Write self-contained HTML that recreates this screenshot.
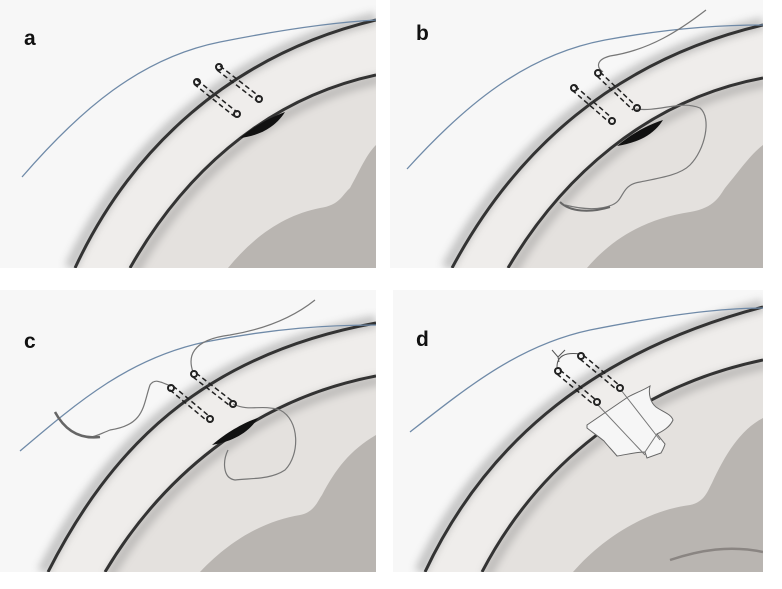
<!DOCTYPE html>
<html><head><meta charset="utf-8"><style>
html,body{margin:0;padding:0;background:#fff;}
svg{display:block}
text{font-family:"Liberation Sans",sans-serif;font-weight:bold;font-size:21px;fill:#111}
</style></head><body>
<svg width="782" height="589" viewBox="0 0 782 589" xmlns="http://www.w3.org/2000/svg">
<defs>
<filter id="bl" x="-20%" y="-20%" width="140%" height="140%"><feGaussianBlur stdDeviation="4"/></filter>
<clipPath id="ca"><rect x="0" y="0" width="376" height="268"/></clipPath>
<clipPath id="cb"><rect x="390" y="0" width="373" height="268"/></clipPath>
<clipPath id="cc"><rect x="0" y="290" width="376" height="282"/></clipPath>
<clipPath id="cd"><rect x="393" y="290" width="370" height="282"/></clipPath>
</defs>
<rect width="782" height="589" fill="#fff"/>
<rect x="0" y="0" width="376" height="268" fill="#f7f7f7"/>
<rect x="390" y="0" width="373" height="268" fill="#f7f7f7"/>
<rect x="0" y="290" width="376" height="282" fill="#f7f7f7"/>
<rect x="393" y="290" width="370" height="282" fill="#f7f7f7"/>

<!-- Panel a -->
<g clip-path="url(#ca)">
<path d="M75,268 C130,150 230,55 376,20 L376,268 Z" fill="#efedeb"/>
<path d="M70,268 C125,150 225,55 376,18" fill="none" stroke="#888" stroke-width="12" opacity=".45" filter="url(#bl)"/>
<path d="M130,268 C180,180 260,100 376,75 L376,268 Z" fill="#e4e1de"/>
<path d="M130,268 C180,180 260,100 376,75" fill="none" stroke="#777" stroke-width="10" opacity=".35" filter="url(#bl)" transform="translate(4,4)"/>
<path d="M228,268 C255,235 285,215 320,208 C340,205 342,195 350,188 C360,170 366,155 376,145 L376,268 Z" fill="#b9b5b1"/>
<path d="M75,268 C130,150 230,55 376,20" fill="none" stroke="#333" stroke-width="3"/>
<path d="M130,268 C180,180 260,100 376,75" fill="none" stroke="#333" stroke-width="3"/>
<path d="M240,138 C255,125 272,117 285,112 C275,128 258,136 240,138 Z" fill="#111"/>
<path d="M22,177 C80,110 140,58 220,42 C290,28 340,22 376,20" fill="none" stroke="#6f8aa8" stroke-width="1.3"/>
<g stroke="#222" stroke-width="1.5" fill="none">
<path d="M220,66 L260,97 M217,70 L257,101" stroke-dasharray="5,3"/>
<path d="M197,80 L237,112 M194,84 L234,116" stroke-dasharray="5,3"/>
<circle cx="219" cy="67" r="3" stroke-width="2"/><circle cx="259" cy="99" r="3" stroke-width="2"/>
<circle cx="197" cy="82" r="3" stroke-width="2"/><circle cx="237" cy="114" r="3" stroke-width="2"/>
</g>
</g>
<text x="24" y="45">a</text>

<!-- Panel b -->
<g clip-path="url(#cb)">
<path d="M452,268 C515,150 615,60 763,25 L763,268 Z" fill="#efedeb"/>
<path d="M447,268 C510,150 610,60 763,23" fill="none" stroke="#888" stroke-width="12" opacity=".45" filter="url(#bl)"/>
<path d="M508,268 C560,180 645,100 763,78 L763,268 Z" fill="#e4e1de"/>
<path d="M508,268 C560,180 645,100 763,78" fill="none" stroke="#777" stroke-width="10" opacity=".35" filter="url(#bl)" transform="translate(4,4)"/>
<path d="M587,268 C615,235 650,218 690,212 C715,208 720,195 725,188 C740,170 750,155 763,145 L763,268 Z" fill="#b9b5b1"/>
<path d="M452,268 C515,150 615,60 763,25" fill="none" stroke="#333" stroke-width="3"/>
<path d="M508,268 C560,180 645,100 763,78" fill="none" stroke="#333" stroke-width="3"/>
<path d="M617,146 C632,133 650,124 663,120 C653,136 636,143 617,146 Z" fill="#111"/>
<path d="M407,169 C465,105 525,55 605,40 C670,28 720,25 763,25" fill="none" stroke="#6f8aa8" stroke-width="1.3"/>
<path d="M706,10 C680,30 650,50 610,56 C595,60 597,68 603,72 M636,109 C660,112 680,100 700,108 C712,118 705,150 690,165 C680,175 660,178 640,182 C620,185 625,200 612,205 C600,210 585,210 565,205" fill="none" stroke="#777" stroke-width="1.2"/>
<path d="M560,202 C570,212 590,213 610,207" fill="none" stroke="#666" stroke-width="2"/>
<g stroke="#222" stroke-width="1.5" fill="none">
<path d="M600,72 L636,106 M597,76 L633,110" stroke-dasharray="5,3"/>
<path d="M575,86 L612,118 M572,90 L609,122" stroke-dasharray="5,3"/>
<circle cx="598" cy="73" r="3" stroke-width="2"/><circle cx="637" cy="108" r="3" stroke-width="2"/>
<circle cx="574" cy="88" r="3" stroke-width="2"/><circle cx="612" cy="121" r="3" stroke-width="2"/>
</g>
</g>
<text x="416" y="40">b</text>

<!-- Panel c -->
<g clip-path="url(#cc)">
<path d="M48,572 C110,450 200,355 376,323 L376,572 Z" fill="#efedeb"/>
<path d="M43,572 C105,450 195,355 376,321" fill="none" stroke="#888" stroke-width="12" opacity=".45" filter="url(#bl)"/>
<path d="M105,572 C160,480 250,400 376,376 L376,572 Z" fill="#e4e1de"/>
<path d="M105,572 C160,480 250,400 376,376" fill="none" stroke="#777" stroke-width="10" opacity=".35" filter="url(#bl)" transform="translate(4,4)"/>
<path d="M200,572 C235,535 270,520 300,515 C315,512 318,500 322,495 C335,470 350,450 376,435 L376,572 Z" fill="#b9b5b1"/>
<path d="M48,572 C110,450 200,355 376,323" fill="none" stroke="#333" stroke-width="3"/>
<path d="M105,572 C160,480 250,400 376,376" fill="none" stroke="#333" stroke-width="3"/>
<path d="M212,445 C227,432 245,422 258,418 C248,434 230,442 212,445 Z" fill="#111"/>
<path d="M20,451 C80,400 130,358 205,342 C275,328 330,325 376,325" fill="none" stroke="#6f8aa8" stroke-width="1.3"/>
<path d="M315,300 C290,320 260,330 230,335 C190,340 188,358 193,372 M171,386 C160,382 155,378 150,385 C143,405 145,425 110,430 C100,434 95,437 90,437 M233,404 C250,412 260,404 280,410 C300,420 300,455 285,470 C270,480 250,478 235,480 C222,478 223,460 228,450" fill="none" stroke="#777" stroke-width="1.2"/>
<path d="M55,412 C62,425 75,440 100,437" fill="none" stroke="#666" stroke-width="2.5"/>
<g stroke="#222" stroke-width="1.5" fill="none">
<path d="M196,373 L232,401 M193,377 L229,405" stroke-dasharray="5,3"/>
<path d="M173,386 L209,416 M170,390 L206,420" stroke-dasharray="5,3"/>
<circle cx="194" cy="374" r="3" stroke-width="2"/><circle cx="233" cy="404" r="3" stroke-width="2"/>
<circle cx="171" cy="388" r="3" stroke-width="2"/><circle cx="210" cy="419" r="3" stroke-width="2"/>
</g>
</g>
<text x="24" y="348">c</text>

<!-- Panel d -->
<g clip-path="url(#cd)">
<path d="M425,572 C480,455 580,355 763,307 L763,572 Z" fill="#efedeb"/>
<path d="M420,572 C475,455 575,355 763,305" fill="none" stroke="#888" stroke-width="12" opacity=".45" filter="url(#bl)"/>
<path d="M482,572 C530,480 620,390 763,360 L763,572 Z" fill="#e4e1de"/>
<path d="M482,572 C530,480 620,390 763,360" fill="none" stroke="#777" stroke-width="10" opacity=".35" filter="url(#bl)" transform="translate(4,4)"/>
<path d="M573,572 C605,535 650,510 690,505 C705,502 708,490 712,483 C725,455 740,430 763,418 L763,572 Z" fill="#b9b5b1"/>
<path d="M670,560 C700,550 730,545 763,552" fill="none" stroke="#8a8582" stroke-width="2.5"/>
<path d="M425,572 C480,455 580,355 763,307" fill="none" stroke="#333" stroke-width="3"/>
<path d="M482,572 C530,480 620,390 763,360" fill="none" stroke="#333" stroke-width="3"/>
<path d="M410,432 C470,385 520,345 590,330 C660,316 720,308 763,308" fill="none" stroke="#6f8aa8" stroke-width="1.3"/>
<path d="M587,425 L628,397 C635,393 642,391 650,386 C648,395 651,403 656,407 C663,412 671,414 673,420 C670,427 663,431 657,434 L665,444 C664,448 662,451 661,453 L647,458 L645,452 C635,452 625,455 617,456 C612,450 607,445 604,441 C598,436 592,432 587,428 Z" fill="#f6f6f6" stroke="#666" stroke-width="1"/>
<path d="M657,434 L645,452" fill="none" stroke="#777" stroke-width="1"/>
<path d="M597,404 L645,455 M621,390 L660,440" fill="none" stroke="#777" stroke-width="1"/>
<path d="M557,367 C557,356 565,352 580,354 M552,350 L558,357 L565,350 M558,357 L559,362" fill="none" stroke="#555" stroke-width="1"/>
<g stroke="#222" stroke-width="1.5" fill="none">
<path d="M583,355 L619,385 M580,359 L616,389" stroke-dasharray="5,3"/>
<path d="M560,370 L596,400 M557,374 L593,404" stroke-dasharray="5,3"/>
<circle cx="581" cy="356" r="3" stroke-width="2"/><circle cx="620" cy="388" r="3" stroke-width="2"/>
<circle cx="558" cy="371" r="3" stroke-width="2"/><circle cx="597" cy="402" r="3" stroke-width="2"/>
</g>
</g>
<text x="416" y="346">d</text>
</svg>
</body></html>
